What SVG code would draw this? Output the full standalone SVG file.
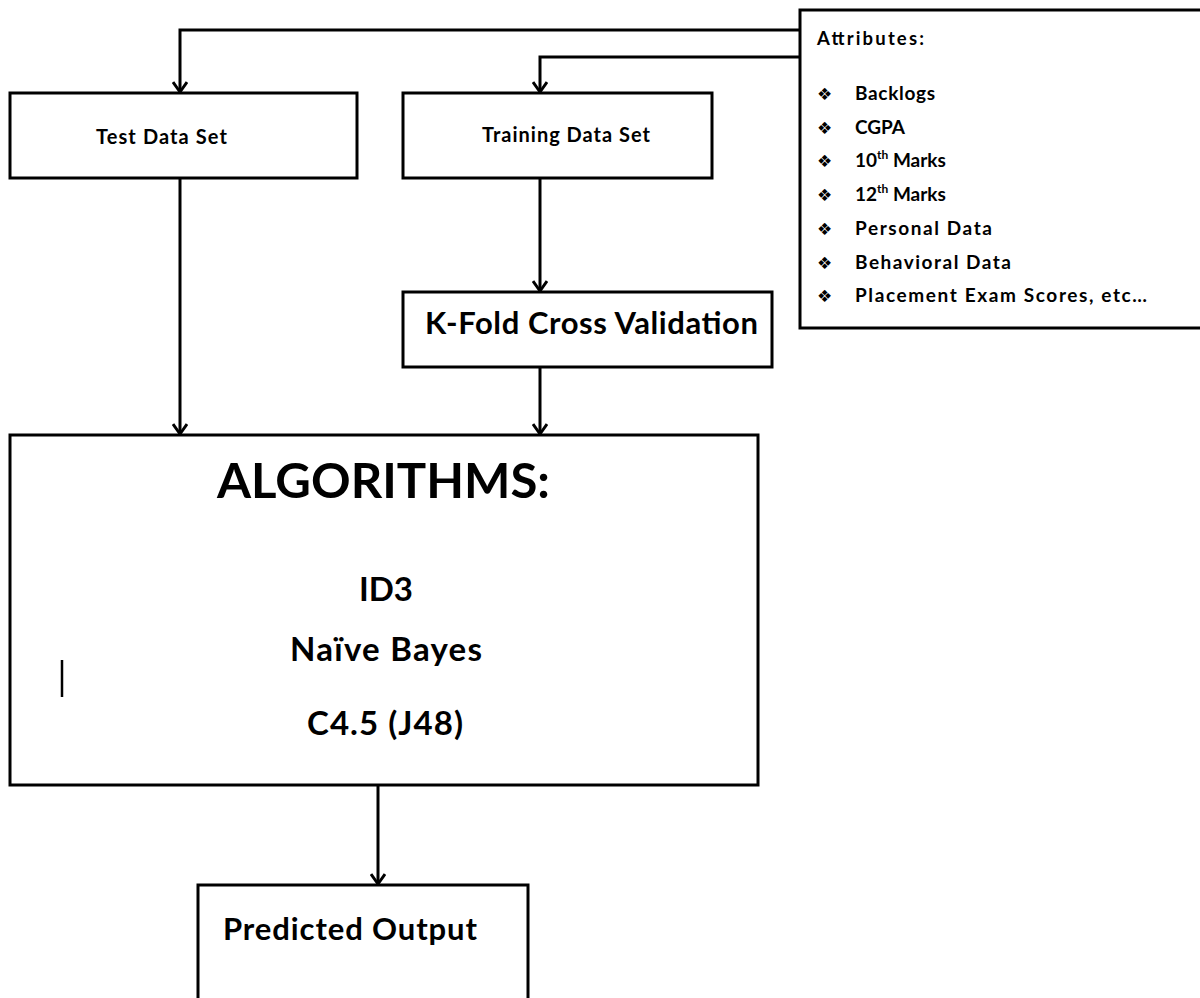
<svg xmlns="http://www.w3.org/2000/svg" width="1200" height="998" viewBox="0 0 1200 998">
<style>
.box{fill:#fff;stroke:#000;stroke-width:3}
.c{fill:none;stroke:#000;stroke-width:3}
.t{font-family:Lato,"Liberation Sans",sans-serif;font-weight:bold;fill:#000}
.b{font-family:"DejaVu Sans",sans-serif;font-size:17px;fill:#000}
.i{font-family:Lato,"Liberation Sans",sans-serif;font-weight:bold;font-size:19px;fill:#000}
</style>
<defs>
<marker id="ah" markerWidth="16" markerHeight="16" refX="13" refY="8" orient="auto" markerUnits="userSpaceOnUse" viewBox="0 0 16 16">
<polyline points="3,1 13,8 3,15" fill="none" stroke="#000" stroke-width="3"/>
</marker>
</defs>
<rect width="1200" height="998" fill="#fff"/>
<g id="connectors">
<polyline class="c" points="800,30 180,30 180,92" marker-end="url(#ah)"/>
<polyline class="c" points="800,57 540,57 540,92" marker-end="url(#ah)"/>
<line class="c" x1="180" y1="178" x2="180" y2="434" marker-end="url(#ah)"/>
<line class="c" x1="540" y1="178" x2="540" y2="291" marker-end="url(#ah)"/>
<line class="c" x1="540" y1="367" x2="540" y2="434" marker-end="url(#ah)"/>
<line class="c" x1="378" y1="785" x2="378" y2="884" marker-end="url(#ah)"/>
</g>
<g id="test">
<rect class="box" x="10" y="93" width="347" height="85"/>
<text class="t" x="96" y="144" font-size="20" textLength="131" lengthAdjust="spacing">Test Data Set</text>
</g>
<g id="training">
<rect class="box" x="403" y="93" width="309" height="85"/>
<text class="t" x="482" y="142" font-size="20" textLength="168" lengthAdjust="spacing">Training  Data Set</text>
</g>
<g id="attributes">
<rect class="box" x="800" y="10" width="402" height="318"/>
<text class="t" x="817" y="45" font-size="18.5" textLength="107" lengthAdjust="spacing">Attributes:</text>
<text class="b" x="817" y="100">❖</text><text class="i" x="855" y="100" textLength="80" lengthAdjust="spacing">Backlogs</text>
<text class="b" x="817" y="134">❖</text><text class="i" x="855" y="134">CGPA</text>
<text class="b" x="817" y="167">❖</text><text class="i" x="855" y="167">10<tspan font-size="12" dy="-8">th</tspan><tspan dy="8"> Marks</tspan></text>
<text class="b" x="817" y="201">❖</text><text class="i" x="855" y="201">12<tspan font-size="12" dy="-8">th</tspan><tspan dy="8"> Marks</tspan></text>
<text class="b" x="817" y="235">❖</text><text class="i" x="855" y="235" textLength="137" lengthAdjust="spacing">Personal  Data</text>
<text class="b" x="817" y="269">❖</text><text class="i" x="855" y="269" textLength="156" lengthAdjust="spacing">Behavioral  Data</text>
<text class="b" x="817" y="302">❖</text><text class="i" x="855" y="302" textLength="292" lengthAdjust="spacing">Placement  Exam  Scores,  etc…</text>
</g>
<g id="kfold">
<rect class="box" x="403" y="292" width="369" height="75"/>
<text class="t" x="425" y="334" font-size="31" textLength="333" lengthAdjust="spacing">K-Fold Cross Validation</text>
</g>
<g id="algorithms">
<rect class="box" x="10" y="435" width="748" height="350"/>
<text class="t" x="217" y="498" font-size="48" textLength="333" lengthAdjust="spacingAndGlyphs">ALGORITHMS:</text>
<text class="t" x="386" y="601" font-size="33" text-anchor="middle">ID3</text>
<text class="t" x="386" y="661" font-size="33" text-anchor="middle" textLength="192" lengthAdjust="spacing">Naïve Bayes</text>
<text class="t" x="385" y="735" font-size="33" text-anchor="middle" textLength="156" lengthAdjust="spacing">C4.5 (J48)</text>
<line x1="62" y1="660" x2="62" y2="697" stroke="#000" stroke-width="2.5"/>
</g>
<g id="predicted">
<rect class="box" x="198" y="885" width="330" height="130"/>
<text class="t" x="223" y="940" font-size="31" textLength="254" lengthAdjust="spacing">Predicted Output</text>
</g>
</svg>
